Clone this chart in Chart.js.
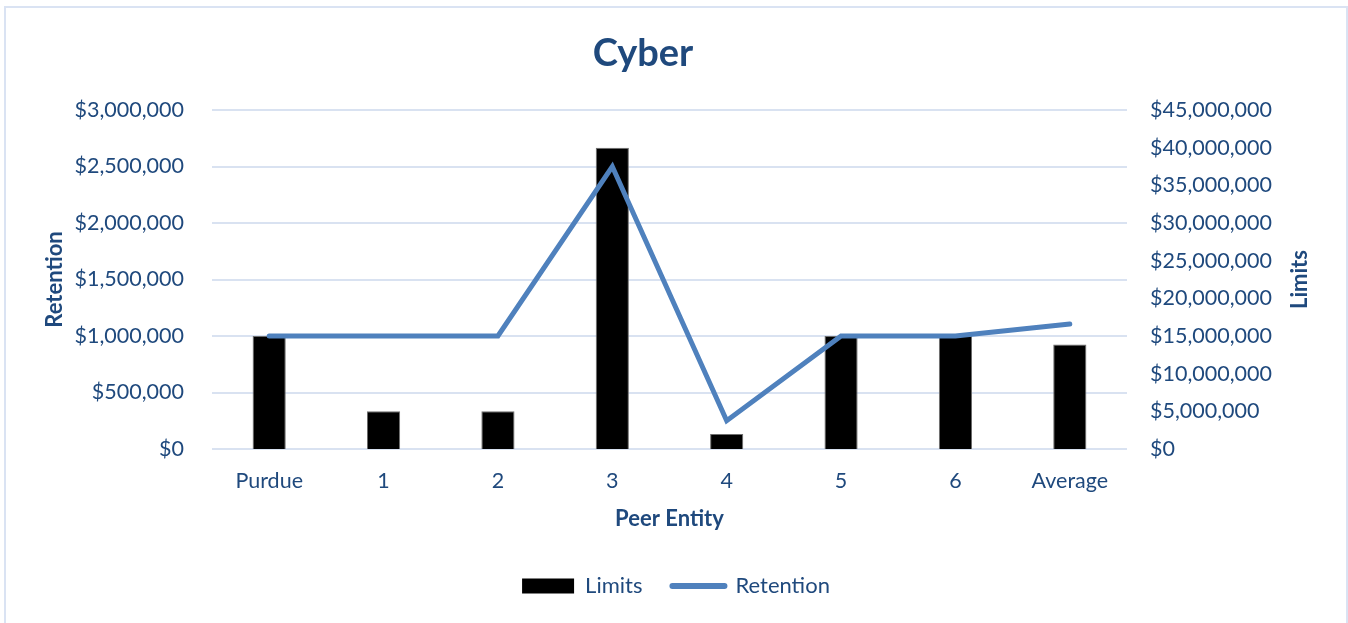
<!DOCTYPE html>
<html>
<head>
<meta charset="utf-8">
<script src="https://cdn.jsdelivr.net/npm/chart.js@4/dist/chart.umd.min.js"></script>
<style>
  html, body { margin: 0; padding: 0; background: #fff; overflow: hidden; }
  #frame {
    position: absolute; left: 4px; top: 6px;
    width: 1340px; height: 640px;
    border: 2px solid #dae3f3;
  }
  #chart { display: block; }
</style>
</head>
<body>
<div id="frame"><canvas id="chart" width="1340" height="615"></canvas></div>
<script>
const entities = ['Purdue', '1', '2', '3', '4', '5', '6', 'Average'];
const limits = [15000000, 5000000, 5000000, 40000000, 2000000, 15000000, 15000000, 13860000];
const retention = [1000000, 1000000, 1000000, 2500000, 250000, 1000000, 1000000, 1107000];

const TEXT = '#1f497d';
const GRID = '#d9e2f1';
const FONT = 'Lato, "Open Sans", sans-serif';

const money = v => '$' + Number(v).toLocaleString('en-US');

// chart title and right-hand axis title (reads bottom-to-top)
const extraText = {
  id: 'extraText',
  afterDraw(chart) {
    const ctx = chart.ctx;
    ctx.save();
    ctx.fillStyle = TEXT;
    ctx.textAlign = 'center';
    ctx.textBaseline = 'middle';
    ctx.font = 'bold 38px ' + FONT;
    ctx.fillText('Cyber', 637, 46);
    const area = chart.chartArea;
    ctx.translate(1294, (area.top + area.bottom) / 2);
    ctx.rotate(-Math.PI / 2);
    ctx.font = 'bold 22px ' + FONT;
    ctx.fillText('Limits', 0, 0);
    ctx.restore();
  }
};

Chart.defaults.font.family = FONT;
Chart.defaults.color = TEXT;

new Chart(document.getElementById('chart'), {
  data: {
    labels: entities,
    datasets: [
      {
        type: 'bar',
        label: 'Limits',
        data: limits,
        yAxisID: 'y1',
        backgroundColor: '#000000',
        borderColor: '#6e6e6e',
        borderWidth: 1,
        barPercentage: 0.29,
        categoryPercentage: 1,
        order: 1
      },
      {
        type: 'line',
        label: 'Retention',
        data: retention,
        yAxisID: 'y',
        borderColor: '#4f81bd',
        backgroundColor: '#4f81bd',
        borderWidth: 5,
        borderCapStyle: 'round',
        pointRadius: 0,
        tension: 0,
        order: 0
      }
    ]
  },
  options: {
    responsive: false,
    animation: false,
    layout: { padding: { top: 102, bottom: 16, left: 0, right: 0 } },
    plugins: {
      title: { display: false },
      tooltip: { enabled: false },
      legend: {
        position: 'bottom',
        labels: {
          color: TEXT,
          font: { size: 22 },
          usePointStyle: true,
          pointStyleWidth: 52,
          boxHeight: 15,
          padding: 30,
          generateLabels(chart) {
            return chart.data.datasets.map((ds, i) => ({
              text: ds.label,
              datasetIndex: i,
              fontColor: TEXT,
              fillStyle: ds.type === 'bar' ? '#000000' : '#4f81bd',
              strokeStyle: ds.type === 'bar' ? '#000000' : '#4f81bd',
              lineWidth: ds.type === 'bar' ? 0 : 6,
              lineCap: 'round',
              pointStyle: ds.type === 'bar' ? 'rect' : 'line',
              hidden: false
            }));
          }
        }
      }
    },
    scales: {
      x: {
        grid: { display: false, drawTicks: false },
        border: { display: false },
        ticks: { font: { size: 21.5 }, padding: 19, maxRotation: 0 },
        title: {
          display: true,
          text: 'Peer Entity',
          font: { size: 22, weight: 'bold' },
          padding: { top: 0, bottom: 13 }
        },
        afterFit(scale) { scale.height = 96; }
      },
      y: {
        position: 'left',
        min: 0,
        max: 3000000,
        ticks: { stepSize: 500000, font: { size: 21.5 }, padding: 28, callback: money },
        grid: { color: GRID, lineWidth: 2, drawTicks: false },
        border: { display: false },
        title: {
          display: true,
          text: 'Retention',
          font: { size: 22, weight: 'bold' },
          padding: { top: 36, bottom: 0 }
        },
        afterFit(scale) { scale.width = 206; }
      },
      y1: {
        position: 'right',
        min: 0,
        max: 45000000,
        ticks: { stepSize: 5000000, font: { size: 21.5 }, padding: 23, callback: money },
        grid: { display: false, drawTicks: false },
        border: { display: false },
        afterFit(scale) { scale.width = 219; }
      }
    }
  },
  plugins: [extraText]
});
</script>
</body>
</html>
